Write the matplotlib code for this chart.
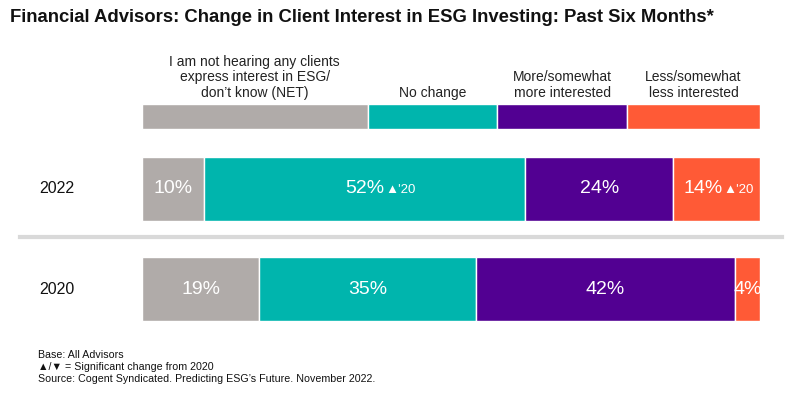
import numpy as np
import matplotlib.pyplot as plt

# data
years = ['2022', '2020']
categories = ["I am not hearing any clients\nexpress interest in ESG/\ndon\u2019t know (NET)",
              'No change', 'More/somewhat\nmore interested', 'Less/somewhat\nless interested']
vals_2022 = [10, 52, 24, 14]
vals_2020 = [19, 35, 42, 4]
sig_2022 = ['', "\u25B2'20", '', "\u25B2'20"]
sig_2020 = ['', '', '', '']
legend_widths = [36.5, 21, 21, 21.5]
colors = ['#B0ABA9', '#00B5AD', '#520092', '#FF5A36']

W, H = 800, 398
fig = plt.figure(figsize=(8, 3.98), dpi=100)
plt.rcParams['font.family'] = ['Liberation Sans', 'DejaVu Sans']

# axes spanning bar area in pixel y coords
ax = fig.add_axes([142 / W, 1 - 322 / H, (760 - 142) / W, (322 - 103) / H])
ax.set_xlim(0, 100)
ax.set_ylim(322, 103)
ax.axis('off')

# legend strip
left = 0
for w, c, lab in zip(legend_widths, colors, categories):
    ax.barh(116.5, w, left=left, height=25, color=c, edgecolor='white', linewidth=1)
    ax.text(left + w / 2, 100, lab, ha='center', va='bottom', fontsize=10,
            color='#222222', linespacing=1.15)
    left += w

rows = [(188.5, vals_2022, sig_2022), (289, vals_2020, sig_2020)]
for (yc, vals, sigs), yr in zip(rows, years):
    left = 0
    for v, c, s in zip(vals, colors, sigs):
        ax.barh(yc, v, left=left, height=64, color=c, edgecolor='white', linewidth=1)
        cx = left + v / 2
        if s:
            if v > 20:
                ax.text(cx, yc, f'{v}%', ha='center', va='center', fontsize=14, color='white')
                ax.text(cx + 3.4, yc + 1.5, s, ha='left', va='center', fontsize=9.5, color='white')
            else:
                ax.text(cx + 0.9, yc, f'{v}%', ha='right', va='center', fontsize=14, color='white')
                ax.text(cx + 1.0, yc + 1.5, s, ha='left', va='center', fontsize=9.5, color='white')
        else:
            ax.text(cx, yc, f'{v}%', ha='center', va='center', fontsize=14, color='white')
        left += v
    fig.text(57 / W, 1 - yc / H, yr, ha='center', va='center', fontsize=11.5, color='#111111')

# separator line
fig.add_artist(plt.Line2D([20 / W, 782 / W], [1 - 237 / H, 1 - 237 / H], color='#D9D9D9', lw=3))

fig.text(10 / W, 1 - 17 / H, 'Financial Advisors: Change in Client Interest in ESG Investing: Past Six Months*',
         ha='left', va='center', fontsize=13.3, fontweight='bold', color='#111111')

foot = ['Base: All Advisors', '\u25B2/\u25BC = Significant change from 2020',
        'Source: Cogent Syndicated. Predicting ESG\u2019s Future. November 2022.']
for i, t in enumerate(foot):
    fig.text(38 / W, 1 - (355 + i * 12) / H, t, ha='left', va='center', fontsize=7.65, color='#111111')

fig.savefig('out.png', dpi=100, facecolor='white')
